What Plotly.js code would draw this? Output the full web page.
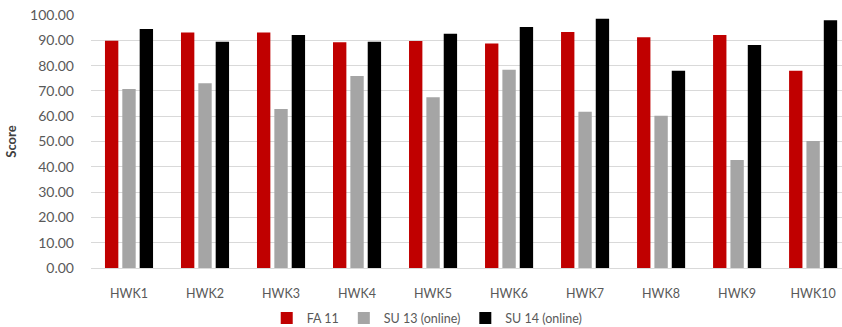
<!DOCTYPE html>
<html>
<head>
<meta charset="utf-8">
<script src="https://cdn.plot.ly/plotly-3.0.1.min.js"></script>
<style>
  html, body { margin: 0; padding: 0; background: #ffffff; overflow: hidden; }
  #chart { width: 842px; height: 327px; }
</style>
</head>
<body>
<div id="chart"></div>
<script>
// Homework average scores per term
const categories = ["HWK1", "HWK2", "HWK3", "HWK4", "HWK5", "HWK6", "HWK7", "HWK8", "HWK9", "HWK10"];
const fa11 = [89.8, 93.1, 93.1, 89.2, 89.7, 88.7, 93.3, 91.2, 92.1, 78.0];
const su13 = [70.8, 73.0, 62.8, 75.9, 67.5, 78.4, 61.8, 60.2, 42.7, 50.2];
const su14 = [94.5, 89.4, 92.1, 89.4, 92.6, 95.3, 98.5, 78.0, 88.1, 97.9];
const seriesNames = ["FA 11", "SU 13 (online)", "SU 14 (online)"];
const yTicks = [0, 10, 20, 30, 40, 50, 60, 70, 80, 90, 100];

const colors = ["#C00000", "#A5A5A5", "#000000"];
const values = [fa11, su13, su14];

const traces = values.map((v, i) => ({
  type: "bar",
  x: categories,
  y: v,
  name: seriesNames[i],
  marker: { color: colors[i] },
  hoverinfo: "none"
}));

const layout = {
  width: 842,
  height: 327,
  margin: { l: 91, r: 0, t: 15, b: 59, autoexpand: false },
  paper_bgcolor: "#ffffff",
  plot_bgcolor: "#ffffff",
  barmode: "group",
  bargap: 0.315,
  bargroupgap: 0.23,
  font: { family: "Lato, 'Open Sans', sans-serif", size: 12, color: "#595959" },
  xaxis: {
    type: "category",
    range: [-0.5, 9.38],
    automargin: false,
    showgrid: false,
    showline: false,
    zeroline: false,
    ticks: "",
    ticklabelstandoff: 16,
    tickfont: { size: 12.5, color: "#595959" }
  },
  yaxis: {
    range: [0, 100],
    automargin: false,
    tickvals: yTicks,
    ticktext: yTicks.map(t => t.toFixed(2)),
    showgrid: true,
    gridcolor: "#D9D9D9",
    gridwidth: 1,
    zeroline: true,
    zerolinecolor: "#D9D9D9",
    zerolinewidth: 1,
    showline: false,
    ticks: "",
    ticklabelstandoff: 16,
    tickfont: { size: 14, color: "#595959" },
    title: {
      text: "<b>Score</b>",
      font: { size: 13, color: "#404040" },
      standoff: 10
    }
  },
  legend: {
    orientation: "h",
    x: 0.234,
    xanchor: "left",
    y: -0.14,
    yanchor: "top",
    font: { size: 12.5, color: "#595959" },
    traceorder: "normal",
    itemwidth: 30,
    tracegroupgap: 0
  },
  showlegend: true
};

Plotly.newPlot("chart", traces, layout, { displayModeBar: false, staticPlot: true });
</script>
</body>
</html>
